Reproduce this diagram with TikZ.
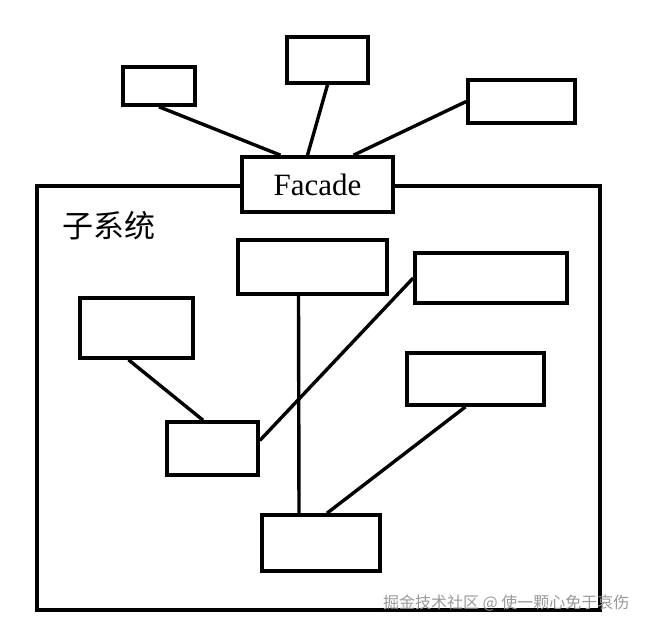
\documentclass[tikz,border=0pt]{standalone}
\usepackage{fontspec}
\setmainfont{Liberation Serif}
\newfontfamily\cjk{Noto Sans CJK SC}
\usepackage{tikz}
\usetikzlibrary{positioning,calc}

\begin{document}
\begin{tikzpicture}[
    x=1pt, y=-1pt,
    box/.style={draw, line width=3.6pt, fill=white, inner sep=0pt},
    link/.style={line width=3.4pt},
    frame/.style={draw, line width=3.6pt}
]
    \useasboundingbox (0,0) rectangle (648,629);

    % Subsystem frame
    \draw[frame] (37,186) rectangle (600,610);
    \node[font=\cjk\fontsize{31}{31}\selectfont, anchor=center] (label) at (109,226) {子系统};

    % Facade and clients
    \node[box, minimum width=151pt, minimum height=55pt, font=\fontsize{31}{31}\selectfont] (facade) at (317.5,184.5) {Facade};
    \node[box, minimum width=72pt, minimum height=38pt] (c1) at (159,86) {};
    \node[box, minimum width=81pt, minimum height=46pt] (c2) at (327.5,60) {};
    \node[box, minimum width=107pt, minimum height=43pt] (c3) at (521.5,101.5) {};
    \draw[link] (c1.south) -- ([xshift=-37pt]facade.north);
    \draw[link] (c2.south) -- ([xshift=-10pt]facade.north);
    \draw[link] (c3.west) -- ([xshift=36pt]facade.north);

    % Subsystem classes
    \node[box, minimum width=149pt, minimum height=54pt] (sA) at (312.5,267) {};
    \node[box, minimum width=152pt, minimum height=50pt] (sB) at (491,278) {};
    \node[box, minimum width=113pt, minimum height=60pt] (sC) at (136.5,328) {};
    \node[box, minimum width=137pt, minimum height=52pt] (sD) at (475.5,379) {};
    \node[box, minimum width=91pt, minimum height=53pt] (sE) at (212.5,448.5) {};
    \node[box, minimum width=118pt, minimum height=56pt] (sF) at (321,543) {};
    \draw[link] ([xshift=-14pt]sA.south) -- ([xshift=-22pt]sF.north);
    \draw[link] ([yshift=8pt]sE.east) -- (sB.west);
    \draw[link] ([xshift=-8pt]sC.south) -- ([xshift=-9.5pt]sE.north);
    \draw[link] ([xshift=-10pt]sD.south) -- ([xshift=6pt]sF.north);

    % Watermark
    \node[font=\cjk\fontsize{16}{16}\selectfont, text=gray!80, anchor=east] (watermark) at (633,603) {掘金技术社区 @ 使一颗心免于哀伤};
\end{tikzpicture}
\end{document}
